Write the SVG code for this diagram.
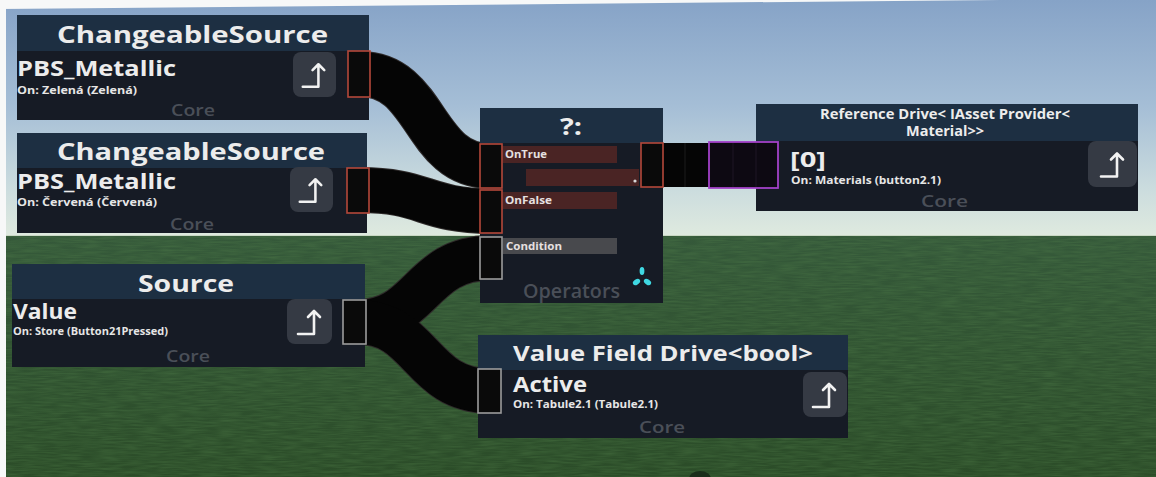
<svg xmlns="http://www.w3.org/2000/svg" width="1156" height="477" viewBox="0 0 1156 477">
  <defs>
    <linearGradient id="sky" x1="0" y1="0" x2="0" y2="1">
      <stop offset="0" stop-color="#86a3c7"/>
      <stop offset="0.45" stop-color="#a5bed6"/>
      <stop offset="0.8" stop-color="#cbdcde"/>
      <stop offset="1" stop-color="#dfeadf"/>
    </linearGradient>
    <linearGradient id="grass" x1="0" y1="0" x2="0" y2="1">
      <stop offset="0" stop-color="#35593a"/>
      <stop offset="1" stop-color="#2b4c28"/>
    </linearGradient>
    <filter id="grain" x="0" y="0" width="100%" height="100%">
      <feTurbulence type="fractalNoise" baseFrequency="0.05 0.6" numOctaves="2" seed="4" result="n"/>
      <feColorMatrix in="n" type="matrix" values="0 0 0 0 0.1  0 0 0 0 0.25  0 0 0 0 0.08  0 0 0 0.9 -0.25"/>
    </filter>
    <!-- "grab" glyph used on each node's button -->
    <symbol id="grab" viewBox="0 0 44 45">
      <path d="M10 35 H26 V12 M20 18 L26 12 L32 18" fill="none" stroke="#f2f2f2" stroke-width="2.6" stroke-linecap="round" stroke-linejoin="round"/>
    </symbol>
    <style>
      text { font-family: "Open Sans", "Noto Sans", "DejaVu Sans", sans-serif; font-weight: 700; }
      .hdr { fill: #1d2f42; }
      .body { fill: #161b25; }
      .title { fill: #ececec; font-size: 24px; }
      .field { fill: #ececec; font-size: 21px; }
      .sub { fill: #e6e6e6; font-size: 10px; }
      .core { fill: #4a4f58; font-size: 17px; font-weight: 600; }
      .btn { fill: #353a44; }
      .wire { fill: none; stroke: #050505; stroke-width: 44; }
      .wire-edge { fill: none; stroke: #2e2a2a; stroke-width: 46; }
      .port-red { fill: #0a0a0a; stroke: #b4483a; stroke-width: 1.6; }
      .port-gray { fill: #0a0a0a; stroke: #9c9c9c; stroke-width: 1.6; }
      .bar-red { fill: #4a2424; }
      .bar-gray { fill: #48494d; }
      .lbl { fill: #e6e0e0; font-size: 10px; }
    </style>
  </defs>

  <!-- environment -->
  <rect x="0" y="0" width="1156" height="236" fill="url(#sky)"/>
  <rect x="0" y="236" width="1156" height="241" fill="url(#grass)"/>
  <rect x="0" y="236" width="1156" height="241" filter="url(#grain)" opacity="0.6"/>
  <line x1="0" y1="235.5" x2="1156" y2="235.5" stroke="#c9d8c4" stroke-width="1"/>
  <ellipse cx="700" cy="479" rx="11" ry="8" fill="#1b2e1b"/>
  <polygon points="0,0 1000,0 0,9" fill="#f7f8f8"/>
  <rect x="0" y="0" width="6" height="477" fill="#f7f8f8"/>

  <!-- connectors -->
  <g id="connectors">
    <path class="wire-edge" d="M360,74 C428,74 422,166 490,166"/>
    <path class="wire-edge" d="M360,190 C425,190 425,211 490,211"/>
    <path class="wire-edge" d="M358,322 C422,322 420,258 490,258"/>
    <path class="wire-edge" d="M358,322 C422,322 420,391 490,391"/>
    <path class="wire" d="M360,74 C428,74 422,166 490,166"/>
    <path class="wire" d="M360,190 C425,190 425,211 490,211"/>
    <path class="wire" d="M358,322 C422,322 420,258 490,258"/>
    <path class="wire" d="M358,322 C422,322 420,391 490,391"/>
    <rect x="655" y="143" width="60" height="44" fill="#050505"/>
    <line x1="685" y1="143" x2="685" y2="187" stroke="#1c1c1c" stroke-width="1"/>
  </g>

  <!-- ChangeableSource (green) -->
  <g id="changeable-source-1">
    <rect class="hdr" x="17" y="15" width="352" height="36"/>
    <rect class="body" x="17" y="51" width="352" height="69"/>
    <text class="title" x="57" y="43" textLength="271" lengthAdjust="spacingAndGlyphs">ChangeableSource</text>
    <text class="field" x="17" y="76" textLength="159" lengthAdjust="spacingAndGlyphs">PBS_Metallic</text>
    <text class="sub" x="17" y="94" textLength="120" lengthAdjust="spacingAndGlyphs">On: Zelená (Zelená)</text>
    <text class="core" x="171" y="116" textLength="44" lengthAdjust="spacingAndGlyphs">Core</text>
    <rect class="btn" x="293" y="52" width="43" height="45" rx="8"/>
    <use href="#grab" x="293" y="52" width="43" height="45"/>
    <rect class="port-red" x="348" y="51" width="22" height="46"/>
  </g>

  <!-- ChangeableSource (red) -->
  <g id="changeable-source-2">
    <rect class="hdr" x="17" y="133" width="350" height="35"/>
    <rect class="body" x="17" y="168" width="350" height="65"/>
    <text class="title" x="57" y="160" textLength="268" lengthAdjust="spacingAndGlyphs">ChangeableSource</text>
    <text class="field" x="17" y="189" textLength="159" lengthAdjust="spacingAndGlyphs">PBS_Metallic</text>
    <text class="sub" x="17" y="206" textLength="140" lengthAdjust="spacingAndGlyphs">On: Červená (Červená)</text>
    <text class="core" x="170" y="230" textLength="44" lengthAdjust="spacingAndGlyphs">Core</text>
    <rect class="btn" x="290" y="167" width="43" height="45" rx="8"/>
    <use href="#grab" x="290" y="167" width="43" height="45"/>
    <rect class="port-red" x="347" y="168" width="22" height="45"/>
  </g>

  <!-- Source -->
  <g id="source">
    <rect class="hdr" x="12" y="264" width="353" height="35"/>
    <rect class="body" x="12" y="299" width="353" height="68"/>
    <text class="title" x="138" y="292" textLength="96" lengthAdjust="spacingAndGlyphs">Source</text>
    <text class="field" x="13" y="319" textLength="64" lengthAdjust="spacingAndGlyphs">Value</text>
    <text class="sub" x="13" y="335" textLength="155" lengthAdjust="spacingAndGlyphs">On: Store (Button21Pressed)</text>
    <text class="core" x="166" y="362" textLength="44" lengthAdjust="spacingAndGlyphs">Core</text>
    <rect class="btn" x="287" y="299" width="45" height="45" rx="8"/>
    <use href="#grab" x="288" y="299" width="44" height="45"/>
    <rect class="port-gray" x="343" y="300" width="23" height="44"/>
  </g>

  <!-- Conditional operator ?: -->
  <g id="conditional">
    <rect class="hdr" x="480" y="108" width="183" height="35"/>
    <rect class="body" x="480" y="143" width="183" height="160"/>
    <text class="title" x="560" y="135" textLength="22" lengthAdjust="spacingAndGlyphs">?:</text>
    <rect class="bar-red" x="503" y="146" width="114" height="17"/>
    <text class="lbl" x="505" y="158" textLength="42" lengthAdjust="spacingAndGlyphs">OnTrue</text>
    <rect class="bar-red" x="526" y="169" width="113" height="17"/>
    <circle cx="635" cy="181" r="1.6" fill="#d8d8d8"/>
    <rect class="bar-red" x="503" y="192" width="114" height="17"/>
    <text class="lbl" x="505" y="204" textLength="47" lengthAdjust="spacingAndGlyphs">OnFalse</text>
    <rect class="bar-gray" x="503" y="238" width="114" height="16"/>
    <text class="lbl" x="506" y="250" textLength="56" lengthAdjust="spacingAndGlyphs">Condition</text>
    <rect class="port-red" x="480" y="144" width="22" height="44"/>
    <rect class="port-red" x="480" y="190" width="22" height="43"/>
    <rect class="port-gray" x="480" y="237" width="22" height="42"/>
    <rect class="port-red" x="641" y="143" width="22" height="44"/>
    <text class="core" x="523" y="298" textLength="97" lengthAdjust="spacingAndGlyphs" style="font-size:19px">Operators</text>
    <g fill="#3fd8e2">
      <ellipse cx="642" cy="271" rx="2.4" ry="4"/>
      <ellipse cx="636.5" cy="282" rx="2.6" ry="4" transform="rotate(55 636.5 282)"/>
      <ellipse cx="647.5" cy="282" rx="2.6" ry="4" transform="rotate(-55 647.5 282)"/>
    </g>
  </g>

  <!-- Reference Drive -->
  <g id="reference-drive">
    <rect class="hdr" x="756" y="104" width="382" height="37"/>
    <rect class="body" x="756" y="141" width="382" height="70"/>
    <text class="title" x="820" y="119" textLength="250" lengthAdjust="spacingAndGlyphs" style="font-size:13.5px">Reference Drive&lt; IAsset Provider&lt;</text>
    <text class="title" x="906" y="136" textLength="78" lengthAdjust="spacingAndGlyphs" style="font-size:13.5px">Material&gt;&gt;</text>
    <text class="field" x="790" y="167" textLength="36" lengthAdjust="spacingAndGlyphs" style="font-size:21px">[0]</text>
    <text class="sub" x="791" y="184" textLength="150" lengthAdjust="spacingAndGlyphs">On: Materials (button2.1)</text>
    <text class="core" x="921" y="207" textLength="47" lengthAdjust="spacingAndGlyphs">Core</text>
    <rect class="btn" x="1088" y="141" width="49" height="46" rx="8"/>
    <use href="#grab" x="1091" y="141" width="44" height="46"/>
    <rect x="709" y="142" width="69" height="46" fill="#0d0912" stroke="#a242c8" stroke-width="1.8"/>
    <line x1="733" y1="143" x2="733" y2="187" stroke="#1e1624" stroke-width="1"/>
    <line x1="756" y1="143" x2="756" y2="187" stroke="#1e1624" stroke-width="1"/>
  </g>

  <!-- Value Field Drive<bool> -->
  <g id="value-field-drive">
    <rect class="hdr" x="478" y="335" width="370" height="35"/>
    <rect class="body" x="478" y="370" width="370" height="68"/>
    <text class="title" x="513" y="361" textLength="300" lengthAdjust="spacingAndGlyphs" style="font-size:22px">Value Field Drive&lt;bool&gt;</text>
    <text class="field" x="513" y="392" textLength="74" lengthAdjust="spacingAndGlyphs">Active</text>
    <text class="sub" x="513" y="408" textLength="145" lengthAdjust="spacingAndGlyphs">On: Tabule2.1 (Tabule2.1)</text>
    <text class="core" x="639" y="433" textLength="46" lengthAdjust="spacingAndGlyphs">Core</text>
    <rect class="btn" x="803" y="372" width="44" height="45" rx="8"/>
    <use href="#grab" x="803" y="372" width="44" height="45"/>
    <rect class="port-gray" x="478" y="369" width="23" height="44"/>
  </g>
</svg>
